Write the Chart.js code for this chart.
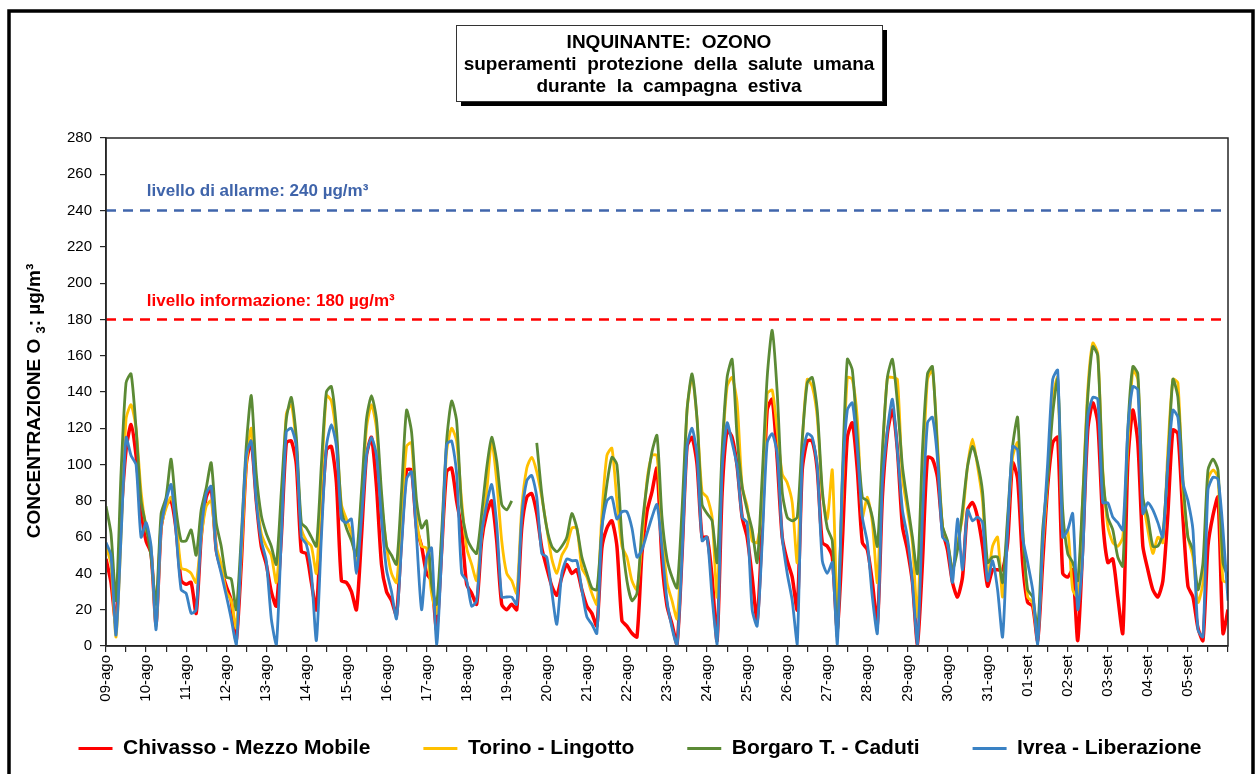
<!DOCTYPE html>
<html>
<head>
<meta charset="utf-8">
<title>Ozono - campagna estiva</title>
<script src="https://cdn.jsdelivr.net/npm/chart.js@4/dist/chart.umd.min.js"></script>
<style>
  html, body { margin: 0; padding: 0; background: #ffffff; }
  #wrap { width: 1260px; height: 774px; position: relative; }
</style>
</head>
<body>
<div id="wrap"><canvas id="ozono" width="1260" height="774"></canvas></div>
<script>
// Giorni della campagna (etichette asse X)
const dayLabels = ['09-ago','10-ago','11-ago','12-ago','13-ago','14-ago','15-ago','16-ago','17-ago','18-ago',
  '19-ago','20-ago','21-ago','22-ago','23-ago','24-ago','25-ago','26-ago','27-ago','28-ago','29-ago','30-ago',
  '31-ago','01-set','02-set','03-set','04-set','05-set'];

// Una lettura ogni 3 ore (00, 03, 06, 09, 12, 15, 18, 21), µg/m³
const READINGS_PER_DAY = 8;

const chivasso = [
  48,35,12,70,108,122,105,75,   58,51,12,65,78,80,64,36,     34,35,18,60,82,87,53,42,
  33,25,3,45,100,113,80,55,     45,30,22,60,112,113,100,52,  51,35,20,70,108,110,90,36,
  35,30,20,60,105,115,88,45,    30,25,17,60,97,97,65,55,     40,36,9,52,96,98,80,64,
  34,29,23,58,73,80,58,23,      20,23,20,65,82,84,73,54,     43,33,28,38,45,40,42,31,
  22,18,11,54,65,69,55,14,      11,7,5,51,74,85,98,47,       22,12,1,50,110,115,100,60,
  60,38,3,84,119,115,99,71,     60,38,14,66,130,136,103,60,  47,38,20,97,113,113,97,57,
  55,49,9,57,115,123,97,57,     53,35,12,82,117,130,108,66,  53,35,1,46,104,103,93,64,
  53,35,27,38,75,79,71,55,      33,42,42,42,57,101,92,46,    24,22,3,46,88,112,115,40,
  38,42,3,55,119,134,123,69,    46,48,27,7,101,130,112,55,   42,31,27,36,73,119,117,71,
  33,27,10,3,55,72,82,7,        20
];

const torino = [
  55,45,5,60,125,133,120,85,    65,54,11,65,76,82,69,43,     42,40,35,60,77,80,55,45,
  30,25,10,50,100,120,85,62,    55,50,35,70,128,133,110,65,  58,55,40,90,138,135,115,78,
  70,62,45,80,120,133,120,80,   55,40,35,70,110,112,70,55,   54,29,18,55,107,120,113,80,
  54,45,36,62,85,113,91,58,     40,36,29,76,98,104,96,82,    65,48,40,50,55,65,65,43,
  38,29,23,73,105,109,80,55,    49,36,31,58,91,105,105,64,   35,25,15,60,130,148,125,85,
  82,71,27,103,143,148,134,88,  77,58,57,75,139,141,119,95,  90,79,46,112,147,143,126,84,
  70,97,20,84,148,147,125,71,   82,68,35,103,148,148,147,93, 75,57,16,90,147,152,112,66,
  57,42,57,71,99,114,99,80,     38,55,60,27,68,104,112,64,   27,24,5,55,92,137,148,60,
  64,31,27,82,141,167,161,97,   66,57,55,60,110,152,147,82,  64,51,60,57,108,147,145,86,
  60,49,24,35,92,97,93,36,      35
];

const borgaro = [
  77,62,25,95,145,150,120,80,   66,49,23,73,82,103,75,58,    58,64,50,75,87,101,68,55,
  38,37,20,60,110,138,95,72,    62,55,45,85,125,137,115,68,  65,60,55,100,140,143,120,75,
  65,58,50,85,125,138,125,85,   55,50,45,85,130,118,80,65,   69,34,23,62,113,135,124,76,
  60,54,51,73,98,115,102,78,    75,80,null,null,null,null,112,84,  65,55,52,55,60,73,65,49,
  40,32,31,65,89,104,100,60,    36,25,29,65,89,107,116,71,   48,38,32,75,130,150,125,78,
  73,69,46,108,148,158,115,88,  75,64,46,93,148,174,140,85,  71,69,71,114,145,148,130,86,
  65,58,5,93,158,152,115,82,    80,71,55,108,148,158,134,99, 79,60,40,108,150,154,108,66,
  58,42,53,75,99,110,101,85,    46,49,49,35,71,110,126,64,   31,27,9,64,92,128,147,75,
  51,46,36,82,137,165,160,95,   71,64,49,44,119,154,150,82,  71,55,55,62,101,147,137,92,
  60,53,31,46,97,103,97,46,     38
];

const ivrea = [
  57,50,6,60,115,105,100,60,    68,55,9,65,80,89,62,31,      29,18,20,62,84,88,52,40,
  28,15,0,55,105,113,80,58,     47,15,0,60,118,120,110,60,   56,40,3,60,110,122,110,70,
  68,70,40,70,105,115,105,70,   42,30,15,55,92,96,60,20,     49,54,0,50,111,113,95,40,
  36,22,25,62,78,89,67,27,      27,27,23,71,91,94,82,51,     49,30,12,40,48,47,47,31,
  16,12,7,65,80,82,70,74,       74,65,49,53,62,71,78,54,     25,10,0,50,110,120,105,58,
  60,27,1,97,123,112,99,71,     68,20,11,57,112,117,106,60,  40,25,1,103,117,115,99,47,
  40,46,1,90,130,134,108,71,    57,27,7,90,119,136,108,75,   60,35,1,71,123,126,103,60,
  57,35,70,42,75,69,71,68,      36,47,31,5,64,110,108,60,    46,31,1,57,101,147,152,60,
  64,73,20,50,126,137,136,79,   79,71,68,64,119,143,141,73,  79,75,68,60,101,130,126,90,
  80,64,9,5,86,93,92,64,        25
];

// Soglie di legge
const sogliaAllarme = 240;
const sogliaInformazione = 180;

const FONT = "'Liberation Sans', Arial, sans-serif";

// Dimensioni dell'area del grafico
const PAD = { left: 20, right: 0, top: 138, bottom: 5 };
const PLOT_LEFT = 106;
const PLOT_RIGHT_GAP = 32;
const PLOT_BOTTOM = 646;

const toPoints = arr => arr.map((v, i) => ({ x: i / READINGS_PER_DAY, y: v }));
const lastX = dayLabels.length - 0.15;

function seriesDataset(label, values, color, width, order) {
  return {
    label, data: toPoints(values),
    borderColor: color, backgroundColor: color, borderWidth: width,
    pointRadius: 0, pointHoverRadius: 0, tension: 0.22, spanGaps: false, order
  };
}

function thresholdDataset(label, value, color) {
  return {
    label, data: [{ x: 0, y: value }, { x: lastX, y: value }],
    borderColor: color, backgroundColor: color, borderWidth: 2.5,
    borderDash: [10, 7], pointRadius: 0, tension: 0, order: 10
  };
}

// Cornice esterna, box del titolo, etichette soglie, titolo asse Y
const decorations = {
  id: 'decorations',
  afterDatasetsDraw(chart) {
    const { ctx, scales: { x, y } } = chart;
    ctx.save();
    ctx.font = `bold 17px ${FONT}`;
    ctx.textAlign = 'left';
    ctx.textBaseline = 'middle';
    ctx.fillStyle = '#3f64aa';
    ctx.fillText('livello di allarme: 240 µg/m³', x.getPixelForValue(1.02), y.getPixelForValue(sogliaAllarme) - 19);
    ctx.fillStyle = '#ff0000';
    ctx.fillText('livello informazione: 180 µg/m³', x.getPixelForValue(1.02), y.getPixelForValue(sogliaInformazione) - 18);
    ctx.restore();
  },
  afterDraw(chart) {
    const { ctx, chartArea: a } = chart;
    ctx.save();
    // bordo area del grafico
    ctx.strokeStyle = '#262626';
    ctx.lineWidth = 1.5;
    ctx.strokeRect(a.left, a.top, a.right - a.left, a.bottom - a.top);

    // cornice esterna
    ctx.strokeStyle = '#000';
    ctx.lineWidth = 3.5;
    ctx.strokeRect(9, 11, 1244, 800);

    // box del titolo con ombra
    const bx = 456, by = 25, bw = 426, bh = 76;
    ctx.fillStyle = '#000';
    ctx.fillRect(bx + 5, by + 5, bw, bh);
    ctx.fillStyle = '#fff';
    ctx.fillRect(bx, by, bw, bh);
    ctx.strokeStyle = '#333';
    ctx.lineWidth = 1;
    ctx.strokeRect(bx + 0.5, by + 0.5, bw, bh);
    ctx.fillStyle = '#000';
    ctx.font = `bold 19px ${FONT}`;
    ctx.textAlign = 'center';
    ctx.textBaseline = 'middle';
    const cx = bx + bw / 2;
    ctx.fillText('INQUINANTE:  OZONO', cx, 43);
    ctx.fillText('superamenti  protezione  della  salute  umana', cx, 65);
    ctx.fillText('durante  la  campagna  estiva', cx, 87);

    // titolo asse Y con pedice
    const mainFont = `bold 19px ${FONT}`;
    const subFont = `bold 13px ${FONT}`;
    const head = 'CONCENTRAZIONE O ', sub = '3', tail = ': µg/m³';
    ctx.font = mainFont;
    const wHead = ctx.measureText(head).width, wTail = ctx.measureText(tail).width;
    ctx.font = subFont;
    const wSub = ctx.measureText(sub).width;
    ctx.translate(35, 401);
    ctx.rotate(-Math.PI / 2);
    ctx.textAlign = 'left';
    let px = -(wHead + wSub + wTail) / 2;
    ctx.font = mainFont; ctx.fillText(head, px, 0); px += wHead;
    ctx.font = subFont; ctx.fillText(sub, px, 6); px += wSub;
    ctx.font = mainFont; ctx.fillText(tail, px, 0);
    ctx.restore();
  }
};

const chart = new Chart(document.getElementById('ozono'), {
  type: 'line',
  data: {
    datasets: [
      seriesDataset('Chivasso - Mezzo Mobile', chivasso, '#ff0000', 3.5, 4),
      seriesDataset('Torino - Lingotto', torino, '#ffc000', 2.8, 3),
      seriesDataset('Borgaro T. - Caduti', borgaro, '#5b8a35', 2.8, 2),
      seriesDataset('Ivrea - Liberazione', ivrea, '#3a82c4', 2.8, 1),
      thresholdDataset('livello di allarme', sogliaAllarme, '#4066ac'),
      thresholdDataset('livello informazione', sogliaInformazione, '#ff0000')
    ]
  },
  options: {
    responsive: false,
    animation: false,
    events: [],
    layout: { padding: PAD },
    plugins: {
      title: { display: false },
      tooltip: { enabled: false },
      legend: {
        position: 'bottom',
        labels: {
          color: '#000',
          font: { family: FONT, size: 21, weight: 'bold' },
          boxWidth: 34,
          boxHeight: 3,
          padding: 53,
          sort: (a, b) => a.datasetIndex - b.datasetIndex,
          filter: item => item.datasetIndex < 4,
          generateLabels(chart) {
            const items = Chart.defaults.plugins.legend.labels.generateLabels(chart);
            return items.map(it => Object.assign(it, { lineWidth: 0 }));
          }
        }
      }
    },
    scales: {
      x: {
        type: 'linear',
        min: 0,
        max: dayLabels.length,
        afterFit(scale) {
          const lg = scale.chart.legend;
          const lgH = lg ? lg.height : 0;
          scale.height = Math.max(20, 774 - PAD.bottom - lgH - PLOT_BOTTOM);
          // le etichette ruotate scendono sotto il box dell'asse: niente ritaglio
          scale._computeLabelArea = () => undefined;
        },
        ticks: {
          stepSize: 0.5,
          autoSkip: false,
          minRotation: 90,
          maxRotation: 90,
          padding: 3,
          color: '#000',
          font: { family: FONT, size: 15 },
          callback: v => (Number.isInteger(v) && v < dayLabels.length) ? dayLabels[v] : ''
        },
        grid: { drawOnChartArea: false, drawTicks: true, tickLength: 6, color: '#262626', lineWidth: 1.2 },
        border: { display: true, color: '#262626', width: 1.5 }
      },
      y: {
        min: 0,
        max: 280,
        afterFit(scale) { scale.width = PLOT_LEFT - PAD.left; },
        ticks: {
          stepSize: 20,
          padding: 8,
          color: '#000',
          font: { family: FONT, size: 15 }
        },
        grid: { drawOnChartArea: false, drawTicks: true, tickLength: 6, color: '#262626', lineWidth: 1.2 },
        border: { display: true, color: '#262626', width: 1.5 }
      },
      // margine destro dell'area del grafico
      yRight: {
        position: 'right',
        min: 0,
        max: 280,
        afterFit(scale) { scale.width = PLOT_RIGHT_GAP; },
        ticks: { display: false },
        grid: { display: false, drawTicks: false },
        border: { display: false }
      }
    }
  },
  plugins: [decorations]
});
</script>
</body>
</html>
